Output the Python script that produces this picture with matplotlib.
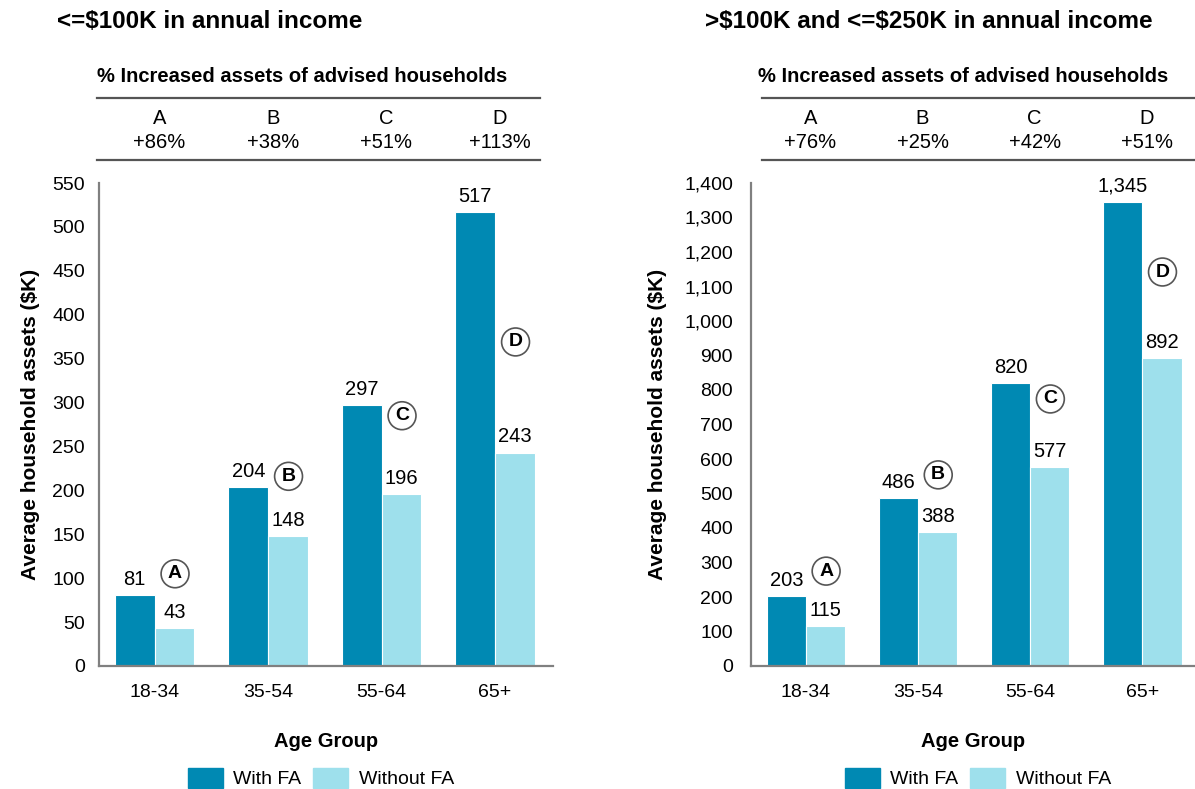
#
# Average household assets, with and without a financial advisor
#

import numpy as np
import matplotlib
matplotlib.use('Agg')
from matplotlib import pyplot as plt
from matplotlib.lines import Line2D
from matplotlib.ticker import FuncFormatter
from matplotlib.patches import Patch
from matplotlib.transforms import blended_transform_factory

plt.rcParams['font.family'] = ['Liberation Sans', 'DejaVu Sans']
plt.rcParams['text.parse_math'] = False

# ============================== data =====================================

groups = ['18-34', '35-54', '55-64', '65+']
letters = ['A', 'B', 'C', 'D']

title_low = '<=$100K in annual income'
with_low = [81, 204, 297, 517]
without_low = [43, 148, 196, 243]
pct_low = ['+86%', '+38%', '+51%', '+113%']
circle_y_low = [105, 216, 285, 369]

title_mid = '>$100K and <=$250K in annual income'
with_mid = [203, 486, 820, 1345]
without_mid = [115, 388, 577, 892]
pct_mid = ['+76%', '+25%', '+42%', '+51%']
circle_y_mid = [275, 554, 774, 1142]

DARK = '#0089B3'
LIGHT = '#9EE0EC'
GREY = '#808080'
W, H = 1195, 789

# =========================================================================

def fx(px): return px / W
def fy(py): return 1 - py / H

def panel(fig, rect, xlim, ymax, step, withFA, withoutFA, pct, cy, cdx,
          title, title_x, head_x, line_x, pad, ypad):
    ax = fig.add_axes(rect)
    x = np.arange(len(groups))
    w = 0.35
    ax.bar(x - w/2, withFA, w, color=DARK, edgecolor='white', linewidth=0.8)
    ax.bar(x + w/2, withoutFA, w, color=LIGHT, edgecolor='white', linewidth=0.8)
    for i in range(len(groups)):
        ax.text(x[i] - w/2, withFA[i] + ymax*0.013, f'{withFA[i]:,}',
                ha='center', va='bottom', fontsize=14.5)
        ax.text(x[i] + w/2, withoutFA[i] + ymax*0.013, f'{withoutFA[i]:,}',
                ha='center', va='bottom', fontsize=14.5)
        ax.text(x[i] + cdx, cy[i], letters[i], ha='center', va='center',
                fontsize=14, fontweight='bold',
                bbox=dict(boxstyle='circle,pad=0.28', fc='white', ec='#555555', lw=1.2))
    ax.set_xlim(*xlim)
    ax.set_ylim(0, ymax)
    ax.set_yticks(np.arange(0, ymax + 1, step))
    ax.yaxis.set_major_formatter(FuncFormatter(lambda v, p: f'{int(v):,}'))
    ax.set_xticks(x)
    ax.set_xticklabels(groups)
    ax.tick_params(length=0, labelsize=14)
    ax.tick_params(axis='x', pad=13)
    ax.tick_params(axis='y', pad=pad)
    for s in ['top', 'right']:
        ax.spines[s].set_visible(False)
    for s in ['left', 'bottom']:
        ax.spines[s].set_color(GREY)
        ax.spines[s].set_linewidth(1.6)
    ax.set_xlabel('Age Group', fontsize=14.5, fontweight='bold', labelpad=22)
    ax.set_ylabel('Average household assets ($K)', fontsize=15,
                  fontweight='bold', labelpad=ypad)

    # titles and header table
    fig.text(fx(title_x), fy(22), title, fontsize=17.5, fontweight='bold',
             ha='left', va='center')
    fig.text(fx(head_x), fy(77), '% Increased assets of advised households',
             fontsize=14.5, fontweight='bold', ha='center', va='center')
    for py in [98, 160]:
        fig.add_artist(Line2D([fx(line_x[0]), fx(line_x[1])], [fy(py), fy(py)],
                              color='#555555', lw=1.6))
    bl = blended_transform_factory(ax.transData, fig.transFigure)
    for i in range(len(groups)):
        fig.text(x[i] + 0.04, fy(118), letters[i], transform=bl, ha='center',
                 va='center', fontsize=14.5)
        fig.text(x[i] + 0.04, fy(142), pct[i], transform=bl, ha='center',
                 va='center', fontsize=14.5)
    return ax


fig = plt.figure(figsize=(W/100, H/100), dpi=100)

bottom = fy(666)
height = (666 - 183) / H

panel(fig, [fx(99), bottom, fx(553) - fx(99), height], (-0.49, 3.51), 550, 50,
      with_low, without_low, pct_low, circle_y_low, 0.18,
      title_low, 57, 302, (97, 540), 10, 9)
panel(fig, [fx(751), bottom, fx(1195) - fx(751), height], (-0.49, 3.47), 1400, 100,
      with_mid, without_mid, pct_mid, circle_y_mid, 0.18,
      title_mid, 705, 963, (762, 1195), 13, 12)

for cx in [321, 978]:
    fig.legend(handles=[Patch(color=DARK, label='With FA'),
                        Patch(color=LIGHT, label='Without FA')],
               loc='center', bbox_to_anchor=(fx(cx), fy(778)), ncol=2,
               frameon=False, fontsize=14, handlelength=1.8, handleheight=1.2,
               handletextpad=0.55, columnspacing=0.6)

fig.savefig('out.png', dpi=100)
